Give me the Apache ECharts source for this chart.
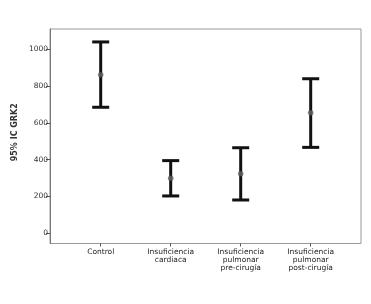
<!DOCTYPE html>
<html><head><meta charset="utf-8">
<script src="https://cdn.jsdelivr.net/npm/echarts@6/dist/echarts.min.js"></script>
<style>html,body{margin:0;padding:0;background:#fff}#c{width:371px;height:304px}</style>
</head><body><div id="c"></div>
<script>
var categories = ['Control', 'Insuficiencia\ncardiaca', 'Insuficiencia\npulmonar\npre-cirugía', 'Insuficiencia\npulmonar\npost-cirugía'];
var means = [862, 299, 324, 655];
var lower = [685, 203, 181, 467];
var upper = [1040, 395, 465, 840];
var yTicks = [0, 200, 400, 600, 800, 1000];

var chart = echarts.init(document.getElementById('c'), null, {renderer: 'canvas'});
var barData = categories.map(function (c, i) { return [i, lower[i], upper[i]]; });
var font = 'DejaVu Sans';
chart.setOption({
  animation: false,
  backgroundColor: '#fff',
  grid: [
    {left: 50, right: 10, top: 29, bottom: 60.5, show: true, borderColor: '#999', borderWidth: 1, backgroundColor: 'transparent'},
    {left: 65.7, right: 25.3, top: 49.3, bottom: 70.7},
    {left: 65.7, right: 25.3, top: 29, bottom: 60.5}
  ],
  xAxis: [
    {gridIndex: 0, type: 'value', min: 0, max: 1, show: false},
    {gridIndex: 1, type: 'category', data: categories, boundaryGap: true, show: false},
    {gridIndex: 2, type: 'category', data: categories, boundaryGap: true,
     axisLine: {show: false},
     axisTick: {show: true, alignWithLabel: true, length: 3, lineStyle: {color: '#555'}},
     axisLabel: {interval: 0, margin: 5, fontFamily: font, fontSize: 7.5, color: '#222', lineHeight: 8, align: 'center'}}
  ],
  yAxis: [
    {gridIndex: 0, type: 'value', min: 0, max: 1, name: '95% IC GRK2', nameLocation: 'middle', nameGap: 31,
     nameTextStyle: {fontFamily: font, fontSize: 8, fontWeight: 'bold', color: '#333', padding: [0, 0, 0, 8]},
     axisLine: {show: true, lineStyle: {color: '#777'}}, axisTick: {show: false}, axisLabel: {show: false}, splitLine: {show: false}},
    {gridIndex: 1, type: 'value', min: 0, max: 1000, interval: 200, offset: 15.7,
     axisLine: {show: false},
     axisTick: {show: true, length: 4, lineStyle: {color: '#555'}},
     axisLabel: {margin: 2, fontFamily: font, fontSize: 7.5, color: '#333',
       formatter: function (v) { return yTicks.indexOf(v) >= 0 ? String(v) : ''; }},
     splitLine: {show: false}},
    {gridIndex: 2, type: 'value', min: 0, max: 1, show: false}
  ],
  series: [
    {type: 'custom', xAxisIndex: 1, yAxisIndex: 1, data: barData,
     renderItem: function (params, api) {
       var x = api.value(0);
       var lo = api.coord([x, api.value(1)]);
       var hi = api.coord([x, api.value(2)]);
       var hw = 8.5;
       var st = {stroke: '#111', lineWidth: 3, fill: null};
       return {type: 'group', children: [
         {type: 'line', shape: {x1: lo[0], y1: lo[1], x2: hi[0], y2: hi[1]}, style: st},
         {type: 'line', shape: {x1: hi[0] - hw, y1: hi[1], x2: hi[0] + hw, y2: hi[1]}, style: st},
         {type: 'line', shape: {x1: lo[0] - hw, y1: lo[1], x2: lo[0] + hw, y2: lo[1]}, style: st}
       ]};
     }},
    {type: 'scatter', xAxisIndex: 1, yAxisIndex: 1, data: means.map(function (m, i) { return [i, m]; }),
     symbol: 'circle', symbolSize: 5, itemStyle: {color: '#666', borderColor: '#444', borderWidth: 0.5}, z: 5}
  ]
});
</script></body></html>
